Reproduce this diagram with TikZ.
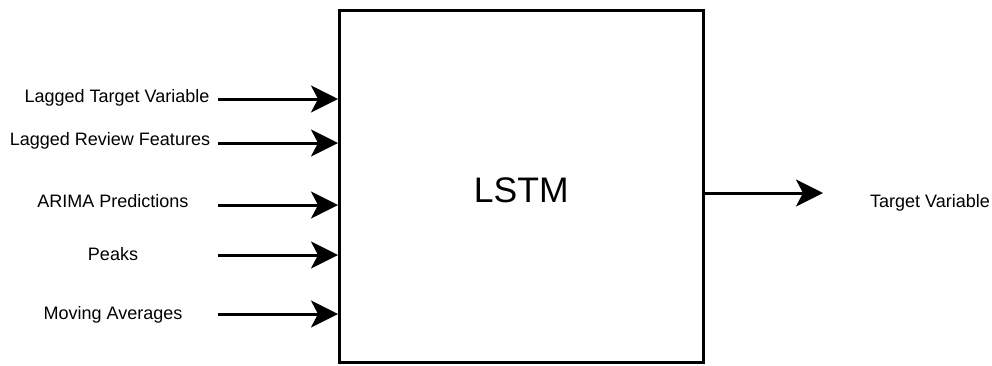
\documentclass[tikz,border=0pt]{standalone}
\usepackage{fontspec}
\setmainfont{Liberation Sans}
\usetikzlibrary{arrows.meta}

\tikzset{
  inlabel/.style={anchor=base, inner sep=0pt, font=\fontsize{18}{21}\selectfont},
  flow/.style={line width=3pt, -{Stealth[length=27pt, width=27pt, inset=7pt]}},
  model/.style={draw, line width=3pt, minimum width=363.5pt, minimum height=351.5pt,
    inner sep=0pt, text height=32.5pt, text depth=0pt, font=\fontsize{35.5}{40}\selectfont}
}

\begin{document}
\begin{tikzpicture}[x=1pt, y=-1pt]
  \useasboundingbox (0,0) rectangle (992,365);

  % the network block
  \node[model] (lstm) at (521.25,186.25) {LSTM};

  % input feature labels
  \node[inlabel] (lag)   at (117,102) {Lagged Target Variable};
  \node[inlabel] (rev)   at (110,145) {Lagged Review Features};
  \node[inlabel] (arima) at (113,207) {ARIMA Predictions};
  \node[inlabel] (peaks) at (113,260) {Peaks};
  \node[inlabel] (mavg)  at (113,319) {Moving Averages};

  % output label
  \node[inlabel] (target) at (930,207) {Target Variable};

  % arrow tails
  \coordinate (s1) at (218,99);
  \coordinate (s2) at (218,143);
  \coordinate (s3) at (218,205);
  \coordinate (s4) at (218,255);
  \coordinate (s5) at (218,314);
  \coordinate (o1) at (823,193);

  % inputs into the block
  \foreach \s in {s1,s2,s3,s4,s5}
    \draw[flow] (\s) -- (lstm.west |- \s);

  % output of the block
  \draw[flow] (lstm.east |- o1) -- (o1);
\end{tikzpicture}
\end{document}
